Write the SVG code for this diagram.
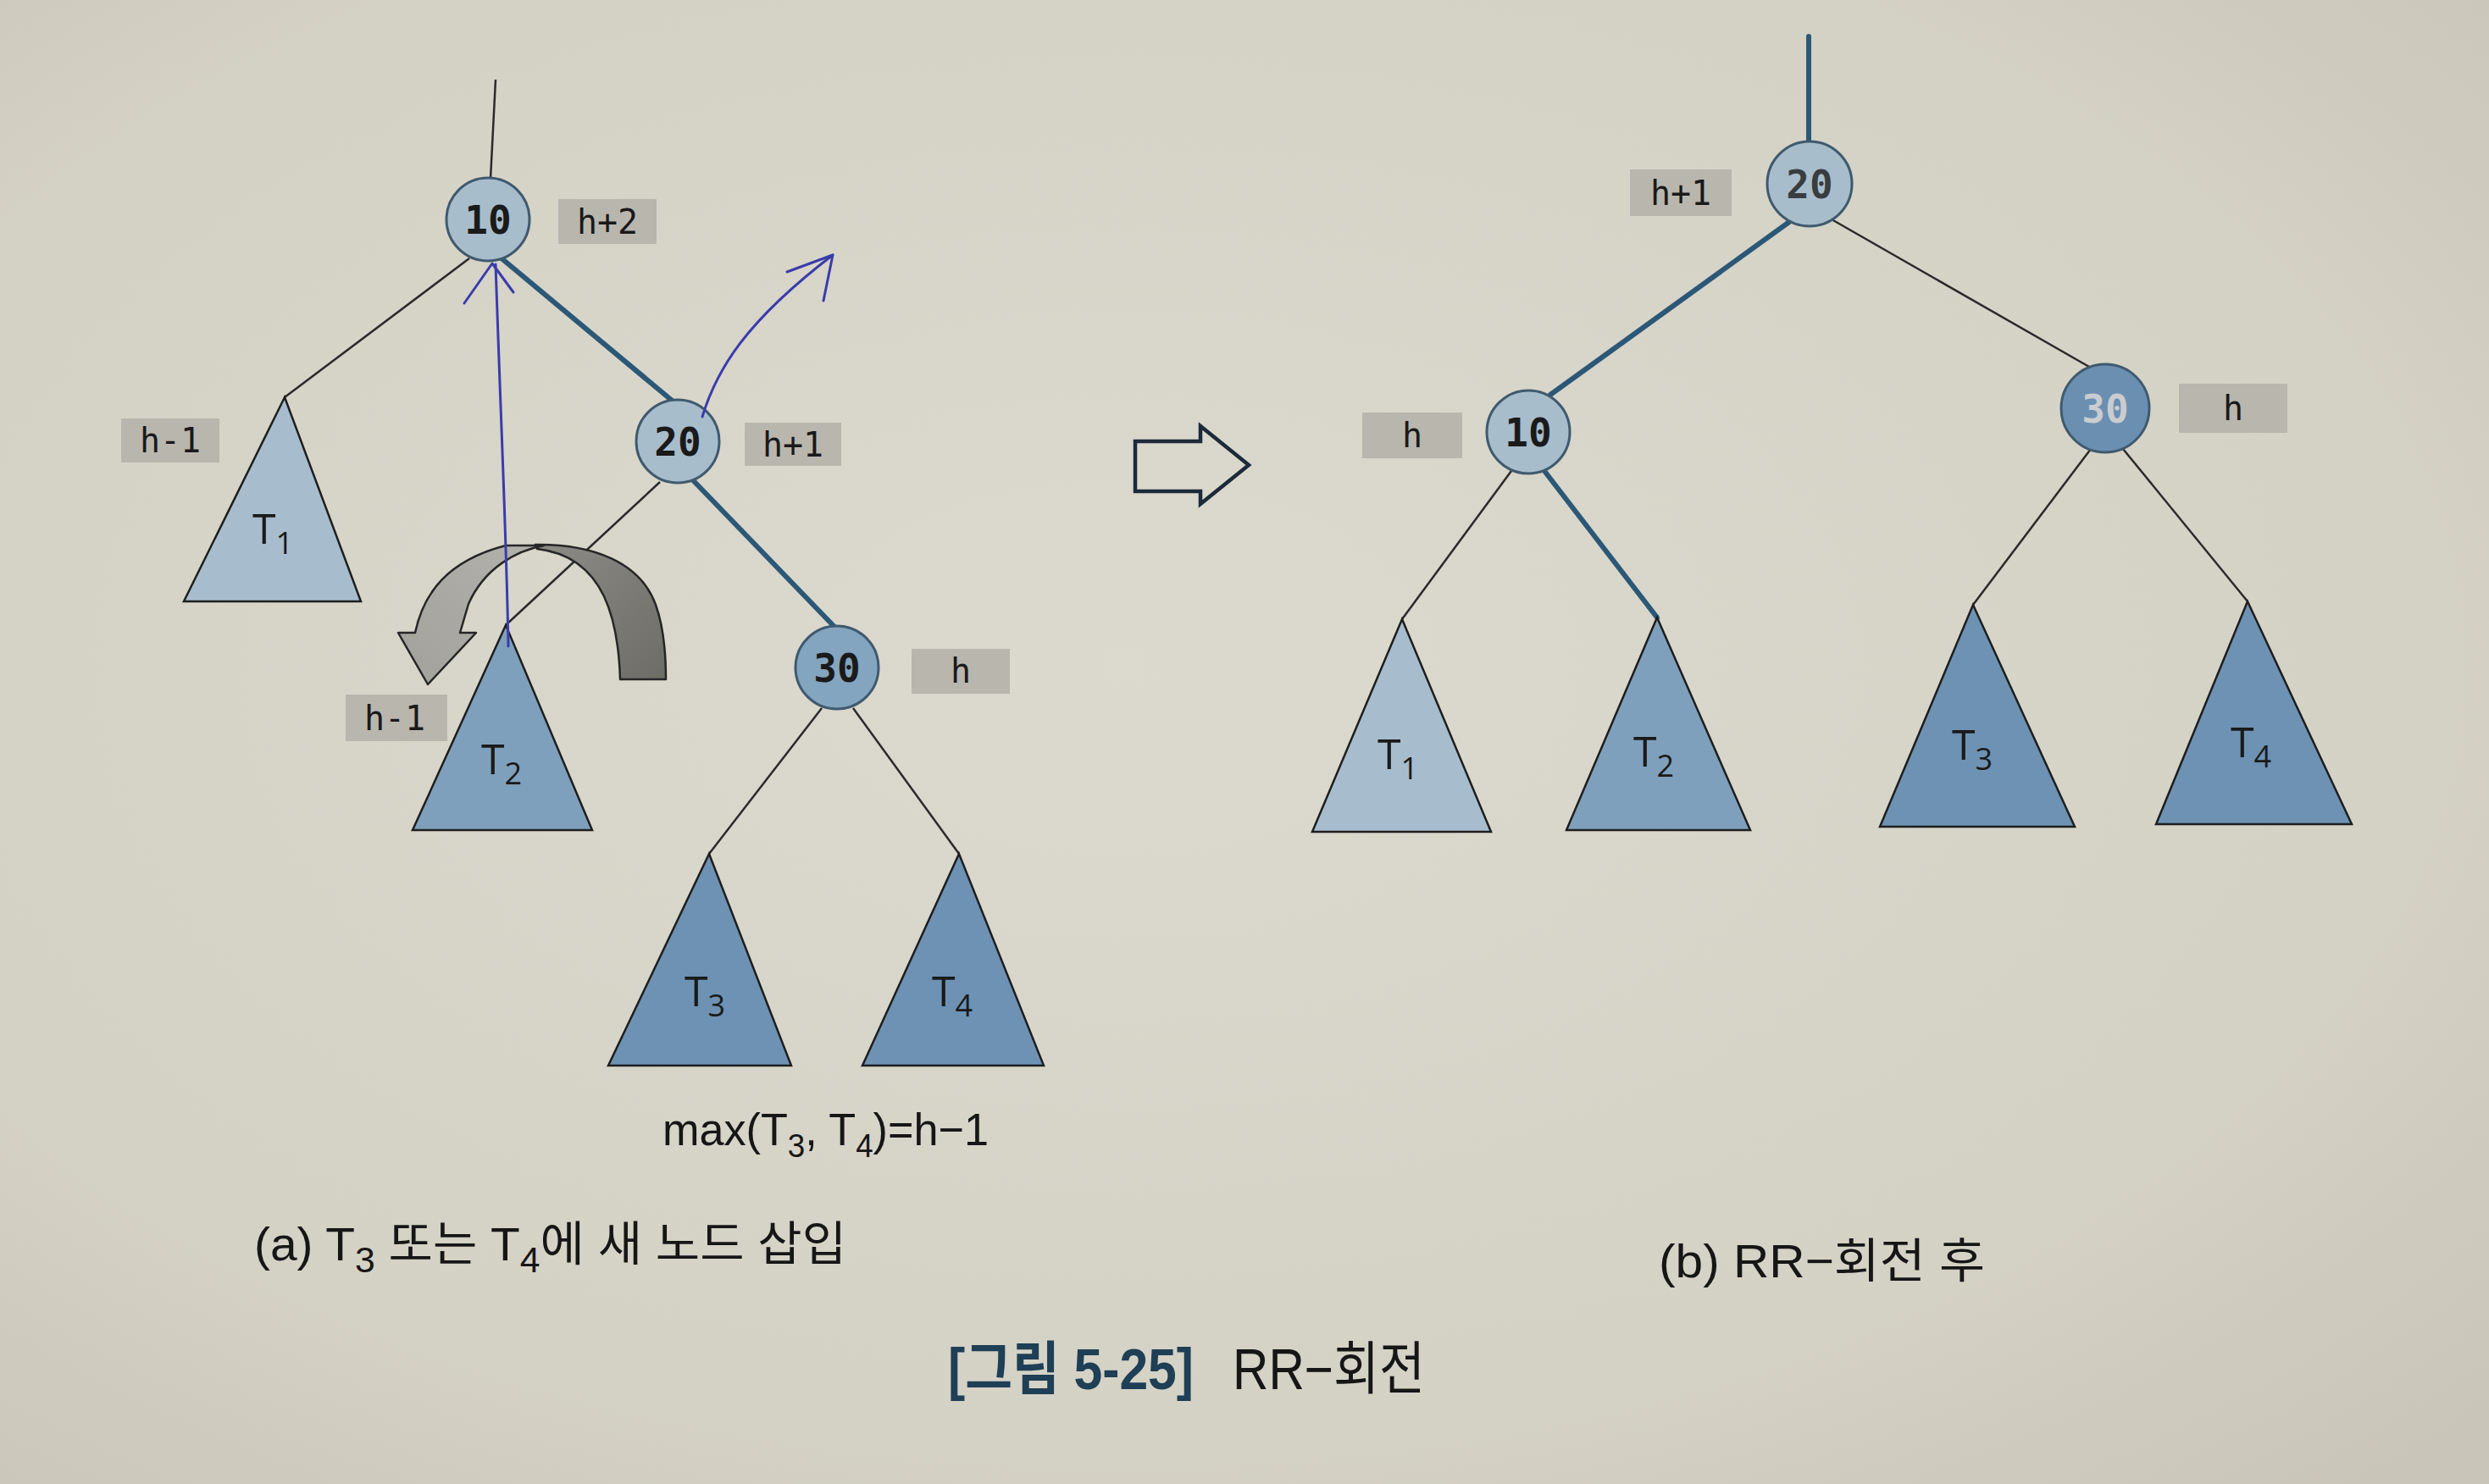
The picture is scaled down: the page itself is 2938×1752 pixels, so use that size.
<svg xmlns="http://www.w3.org/2000/svg" width="2938" height="1752" viewBox="0 0 2938 1752">
  <defs>
    <radialGradient id="paper" cx="0.45" cy="0.45" r="0.75">
      <stop offset="0" stop-color="#dcd9ce"/>
      <stop offset="0.7" stop-color="#d4d1c5"/>
      <stop offset="1" stop-color="#c9c5b8"/>
    </radialGradient>
    <linearGradient id="darkBand" x1="0" y1="0" x2="1" y2="1">
      <stop offset="0" stop-color="#8d8b85"/>
      <stop offset="1" stop-color="#6e6c66"/>
    </linearGradient>
    <linearGradient id="lightBand" x1="1" y1="0" x2="0" y2="1">
      <stop offset="0" stop-color="#b3b1ab"/>
      <stop offset="1" stop-color="#a3a19b"/>
    </linearGradient>
    <style>
      .thin { stroke: #2a2a2a; stroke-width: 2.5; fill: none; }
      .thick { stroke: #2c5877; stroke-width: 6; fill: none; stroke-linecap: round; }
      .node { stroke: #3f5a6e; stroke-width: 3; }
      .n-light { fill: #a8bdcc; }
      .n-mid { fill: #84a5c0; }
      .n-dark { fill: #6b8fb1; }
      .t-light { fill: #a7bdcd; stroke: #1e1e1e; stroke-width: 2.5; }
      .t-mid { fill: #7fa0bc; stroke: #1e1e1e; stroke-width: 2.5; }
      .t-dark { fill: #6d92b4; stroke: #1e1e1e; stroke-width: 2.5; }
      .num { font-family: "DejaVu Sans Mono", "Liberation Mono", monospace; font-size: 46px; font-weight: bold; fill: #1a1a1a; text-anchor: middle; dominant-baseline: central; }
      .hbox { fill: #b9b6ae; }
      .hl { font-family: "DejaVu Sans Mono", "Liberation Mono", monospace; font-size: 40px; fill: #1a1a1a; text-anchor: middle; dominant-baseline: central; }
      .tl { font-family: "Open Sans", "Noto Sans", sans-serif; font-size: 50px; fill: #1a1a1a; text-anchor: middle; }
      .pen { stroke: #3a3cab; stroke-width: 3; fill: none; stroke-linecap: round; stroke-linejoin: round; }
      .cap { font-family: "Liberation Sans", "Noto Sans CJK KR", sans-serif; fill: #161616; }
    </style>
  </defs>

  <rect x="0" y="0" width="2938" height="1752" fill="url(#paper)"/>

  <!-- connectors -->
  <g id="connectors">
    <!-- (a) -->
    <line class="thin" x1="585" y1="94" x2="579" y2="211"/>
    <line class="thin" x1="554" y1="305" x2="336" y2="469"/>
    <line class="thick" x1="592" y1="305" x2="797" y2="476"/>
    <line class="thin" x1="779" y1="569" x2="597" y2="738"/>
    <line class="thick" x1="819" y1="568" x2="985" y2="740"/>
    <line class="thin" x1="970" y1="836" x2="837" y2="1008"/>
    <line class="thin" x1="1007" y1="836" x2="1132" y2="1008"/>
    <!-- (b) -->
    <line class="thick" x1="2135" y1="43" x2="2135" y2="168"/>
    <line class="thick" x1="2112" y1="262" x2="1830" y2="466"/>
    <line class="thin" x1="2162" y1="259" x2="2466" y2="433"/>
    <line class="thin" x1="1784" y1="556" x2="1655" y2="731"/>
    <line class="thick" x1="1823" y1="556" x2="1956" y2="729"/>
    <line class="thin" x1="2468" y1="530" x2="2329" y2="714"/>
    <line class="thin" x1="2506" y1="530" x2="2653" y2="710"/>
  </g>

  <!-- (a) subtrees -->
  <g id="a-T1"><polygon class="t-light" points="336,469 217,710 426,710"/><text class="tl" x="322" y="642">T<tspan font-size="36" dy="12">1</tspan></text></g>
  <g id="a-T2"><polygon class="t-mid" points="597,738 487,980 699,980"/><text class="tl" x="592" y="914">T<tspan font-size="36" dy="12">2</tspan></text></g>
  <g id="a-T3"><polygon class="t-dark" points="837,1008 718,1258 934,1258"/><text class="tl" x="832" y="1188">T<tspan font-size="36" dy="12">3</tspan></text></g>
  <g id="a-T4"><polygon class="t-dark" points="1132,1008 1018,1258 1232,1258"/><text class="tl" x="1124" y="1188">T<tspan font-size="36" dy="12">4</tspan></text></g>

  <!-- (a) nodes -->
  <g id="a-node-10"><circle class="node n-light" cx="576" cy="259" r="49"/><text class="num" x="576" y="260">10</text></g>
  <g id="a-node-20"><circle class="node n-light" cx="800" cy="521" r="49"/><text class="num" x="800" y="522">20</text></g>
  <g id="a-node-30"><circle class="node n-mid" cx="988" cy="788" r="49"/><text class="num" x="988" y="789">30</text></g>

  <!-- (a) height labels -->
  <g id="a-h-10"><rect class="hbox" x="659" y="235" width="116" height="53"/><text class="hl" x="717" y="262">h+2</text></g>
  <g id="a-h-20"><rect class="hbox" x="879" y="499" width="114" height="51"/><text class="hl" x="936" y="525">h+1</text></g>
  <g id="a-h-T1"><rect class="hbox" x="143" y="494" width="116" height="52"/><text class="hl" x="201" y="520">h-1</text></g>
  <g id="a-h-30"><rect class="hbox" x="1076" y="766" width="116" height="53"/><text class="hl" x="1134" y="792">h</text></g>
  <g id="a-h-T2"><rect class="hbox" x="408" y="820" width="120" height="55"/><text class="hl" x="466" y="848">h-1</text></g>

  <!-- rotation arrow -->
  <g id="rotation-arrow" stroke="#262626" stroke-width="2.5" stroke-linejoin="round">
    <path fill="url(#darkBand)" d="M632,643 C700,642 756,664 774,714 C784,742 786,772 786,802 L732,802 C731,768 727,734 713,704 C697,671 670,652 634,648 Z"/>
    <path fill="url(#lightBand)" d="M490,747 C500,700 528,662 597,644 L642,644 C610,650 572,670 553,713 L543,747 L562,747 L505,808 L470,747 Z"/>
  </g>

  <!-- (a) text -->
  <text class="cap" x="782" y="1352" font-size="54" textLength="385" lengthAdjust="spacingAndGlyphs">max(T<tspan font-size="38" dy="14">3</tspan><tspan dy="-14">, T</tspan><tspan font-size="38" dy="14">4</tspan><tspan dy="-14">)=h−1</tspan></text>
  <text class="cap" x="300" y="1488" font-size="56" textLength="699" lengthAdjust="spacingAndGlyphs">(a) T<tspan font-size="42" dy="14">3</tspan><tspan dy="-14"> 또는 T</tspan><tspan font-size="42" dy="14">4</tspan><tspan dy="-14">에 새 노드 삽입</tspan></text>

  <!-- hollow arrow -->
  <path id="transform-arrow" d="M1340,521 H1417 V503 L1474,549 L1417,595 V580 H1340 Z" fill="none" stroke="#1c2a3a" stroke-width="4.5" stroke-linejoin="miter"/>

  <!-- (b) subtrees -->
  <g id="b-T1"><polygon class="t-light" points="1655,731 1549,982 1760,982"/><text class="tl" x="1650" y="908">T<tspan font-size="36" dy="12">1</tspan></text></g>
  <g id="b-T2"><polygon class="t-mid" points="1956,729 1849,980 2066,980"/><text class="tl" x="1952" y="905">T<tspan font-size="36" dy="12">2</tspan></text></g>
  <g id="b-T3"><polygon class="t-dark" points="2329,714 2219,976 2449,976"/><text class="tl" x="2328" y="897">T<tspan font-size="36" dy="12">3</tspan></text></g>
  <g id="b-T4"><polygon class="t-dark" points="2653,710 2545,973 2776,973"/><text class="tl" x="2657" y="894">T<tspan font-size="36" dy="12">4</tspan></text></g>

  <!-- (b) nodes -->
  <g id="b-node-20"><circle class="node n-light" cx="2136" cy="217" r="50"/><text class="num" x="2136" y="218" fill-opacity="0.8">20</text></g>
  <g id="b-node-10"><circle class="node n-light" cx="1804" cy="510" r="49"/><text class="num" x="1804" y="511">10</text></g>
  <g id="b-node-30"><circle class="node n-dark" cx="2485" cy="482" r="52"/><text class="num" x="2485" y="483" style="fill:#c9ccd0">30</text></g>

  <!-- (b) height labels -->
  <g id="b-h-20"><rect class="hbox" x="1924" y="200" width="120" height="55"/><text class="hl" x="1984" y="228">h+1</text></g>
  <g id="b-h-10"><rect class="hbox" x="1608" y="487" width="118" height="54"/><text class="hl" x="1667" y="514">h</text></g>
  <g id="b-h-30"><rect class="hbox" x="2572" y="453" width="128" height="58"/><text class="hl" x="2636" y="482">h</text></g>

  <!-- (b) caption -->
  <text class="cap" x="1958" y="1508" font-size="56" textLength="385" lengthAdjust="spacingAndGlyphs">(b) RR−회전 후</text>

  <!-- figure title -->
  <text class="cap" x="1119" y="1640" font-size="68" font-weight="bold" style="fill:#1e3f55" textLength="290" lengthAdjust="spacingAndGlyphs">[그림 5-25]</text>
  <text class="cap" x="1455" y="1640" font-size="68" textLength="227" lengthAdjust="spacingAndGlyphs">RR−회전</text>

  <!-- hand-drawn pen annotations -->
  <g id="pen-marks">
    <path class="pen" d="M600,763 C598,640 592,520 585,312"/>
    <path class="pen" d="M548,358 L581,311 L606,345"/>
    <path class="pen" d="M829,492 C846,436 880,380 983,301"/>
    <path class="pen" d="M929,321 L983,301 L972,355"/>
  </g>
</svg>
